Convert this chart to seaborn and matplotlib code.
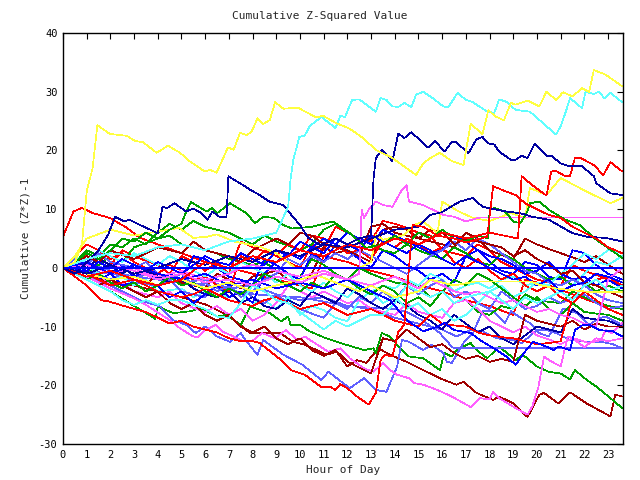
import matplotlib
matplotlib.use("Agg")
import matplotlib.pyplot as plt
import seaborn as sns
import pandas as pd

# ---------------- data ----------------
TITLE = "Cumulative Z-Squared Value"
XLABEL = "Hour of Day"
YLABEL = "Cumulative (Z*Z)-1"
XTICKS = list(range(0, 24))
YTICKS = [-30, -20, -10, 0, 10, 20, 30, 40]

COLORS = {
    "red": "#ff0000", "darkred": "#a00000", "green": "#00a000",
    "blue": "#0000ff", "darkblue": "#0000a0", "lightblue": "#6060ff",
    "magenta": "#ff60ff", "cyan": "#60ffff", "yellow": "#ffff40",
}

H_yellow_top = [0, 0.5, 0.8, 1.0, 1.25, 1.45, 1.98, 2.69, 3.04, 3.38, 3.95, 4.43, 4.94, 5.36, 5.99, 6.2, 6.48, 6.96, 7.2, 7.47, 7.75, 7.96, 8.21, 8.44, 8.73, 8.95, 9.3, 9.9, 10.7, 10.97, 11.55, 12.1, 12.66, 13.2, 13.9, 14.9, 15.2, 15.5, 15.9, 16.4, 16.9, 17.2, 17.7, 17.95, 18.2, 18.6, 18.9, 19.1, 19.6, 20.1, 20.4, 20.8, 21.1, 21.5, 21.9, 22.2, 22.4, 22.9, 23.6]
V_yellow_top = [0, 1, 4, 13, 17, 24.3, 22.8, 22.5, 21.6, 21.4, 19.6, 20.8, 19.6, 18.1, 16.4, 16.7, 16.2, 20.5, 20.1, 23.0, 22.6, 23.2, 25.5, 24.5, 25.2, 28.2, 27.1, 27.3, 25.6, 25.9, 24.6, 23.7, 22.1, 20.1, 18.7, 15.8, 17.8, 18.7, 19.6, 18.2, 17.5, 24.5, 22.8, 26.9, 25.9, 25.1, 28.1, 27.8, 28.5, 27.5, 30.0, 28.6, 29.9, 29.2, 30.6, 30.0, 33.7, 32.9, 30.9]

H_cyan_top = [0, 1, 2, 3, 4, 5, 6, 7, 8, 9, 9.5, 9.6, 9.72, 9.97, 10.2, 10.4, 10.9, 11.5, 11.7, 11.9, 12.2, 12.5, 13.2, 13.4, 13.65, 13.9, 14.15, 14.4, 14.7, 14.9, 15.2, 15.6, 16.05, 16.25, 16.65, 17.0, 17.3, 17.9, 18.2, 18.4, 18.7, 19.1, 19.7, 20.1, 20.8, 21.0, 21.2, 21.4, 21.9, 22.05, 22.4, 22.6, 22.85, 23.1, 23.6]
V_cyan_top = [0, 1.5, 2.5, 2, 3.5, 4, 3, 4.5, 5, 6, 10.4, 15, 18.4, 22.3, 22.5, 24.1, 25.7, 23.8, 25.9, 25.7, 28.6, 28.7, 26.6, 28.9, 28.6, 27.5, 27.4, 28.1, 27.4, 29.5, 30.0, 28.9, 27.5, 27.3, 29.8, 28.6, 28.2, 26.6, 26.4, 28.7, 28.3, 26.9, 26.6, 25.2, 22.7, 24.1, 26.4, 28.9, 27.2, 30.0, 29.6, 30.0, 28.9, 29.8, 28.2]

H_darkblue_top = [0, 0.5, 1.0, 1.5, 1.9, 2.2, 2.6, 2.8, 3.25, 4.0, 4.2, 4.4, 4.7, 5.2, 5.5, 5.85, 6.1, 6.3, 6.6, 6.9, 6.98, 7.6, 7.9, 8.3, 8.7, 9.3, 9.7, 10.0, 10.35, 10.85, 11.5, 12, 12.5, 13.0, 13.1, 13.2, 13.45, 13.9, 14.15, 14.4, 14.7, 15.4, 15.7, 16.1, 16.4, 16.6, 17.1, 17.45, 17.7, 17.95, 18.2, 18.4, 18.9, 19.1, 19.35, 19.6, 19.9, 20.4, 20.6, 21.0, 21.3, 21.9, 22.4, 22.5, 23.1, 23.6]
V_darkblue_top = [0, -1, 1, 3, 5.6, 8.7, 7.9, 8.2, 7.3, 5.9, 10.4, 10.2, 11.0, 9.6, 10.1, 9.3, 8.2, 9.6, 8.7, 8.7, 15.6, 14.1, 13.3, 12.4, 11.3, 10.7, 8.7, 7.3, 5.1, 3.9, 5, 4, 5, 5.5, 15, 18.7, 20.1, 18.2, 22.9, 22.1, 23.1, 20.5, 21.6, 19.8, 21.4, 21.4, 19.5, 21.9, 22.3, 21.2, 21.0, 19.8, 18.4, 18.4, 19.1, 18.7, 21.1, 19.1, 19.1, 17.8, 17.4, 17.3, 15.6, 14.4, 12.7, 12.4]

H_red_B = [0, 1, 2, 3, 4, 5, 6, 7, 8, 9, 10, 11, 12, 13, 14, 15, 16, 17, 18, 19.2, 19.35, 19.8, 20.4, 20.6, 20.8, 21.2, 21.4, 21.6, 21.8, 22.4, 22.8, 23.1, 23.6]
V_red_B = [0, -1.5, -0.5, -2, -3, -2, 1, 0, 2, 1, 3, 2, 4, 3, 5, 4, 6, 5, 6, 5, 15.6, 14.1, 12.3, 16.4, 16.5, 15.6, 15.7, 18.7, 18.8, 17.5, 15.8, 18.0, 16.4]

H_red_low = [0, 0.5, 1, 1.6, 1.9, 2.5, 3, 3.5, 4, 4.5, 5, 5.5, 6, 6.5, 7, 7.5, 8, 8.3, 9.2, 9.6, 10.2, 10.9, 11.3, 11.5, 11.7, 12.0, 12.4, 12.9, 13.2, 13.4, 13.6, 13.9, 14.15, 14.4, 14.75, 15.2, 15.8, 16.5, 17, 17.9, 18.15, 18.7, 19.1, 19.5, 20, 20.5, 21, 21.5, 22, 22.5, 23, 23.6]
V_red_low = [0, -1.5, -3, -5.5, -5.7, -6.4, -7, -7.5, -8.5, -9.5, -9, -10, -10.5, -11, -12, -12.5, -12.5, -12.8, -15.7, -17.4, -18.2, -20.3, -20.3, -20.8, -19.8, -20.5, -21.9, -23.3, -21.3, -15.7, -14.8, -15.1, -10.9, -9.7, 7.3, 7, 5.5, 5, 4.3, 5.3, 13.9, 13.0, 12.4, 11.0, 10, 9, 8.5, 7, 6, 5, 3.5, 2.5]

H_red_C = [0, 0.44, 0.79, 1.28, 1.98, 2.7, 3.25, 4, 5, 6, 7, 8, 9, 10, 10.5, 11, 12, 13, 14, 15, 16, 17, 18, 19, 19.5, 20.5, 21.5, 22.5, 23.6]
V_red_C = [5.3, 9.6, 10.2, 9.3, 8.5, 6.8, 5.1, 4, 2.5, 1, 0, -1, -2, -3, -3.5, 2, 1, -0.5, -1.5, -3, -4, -5.5, -6.5, -8, -2, -3, -4.5, -6, -7]

H_darkred_low = [0, 1, 2, 3, 4, 5, 6.06, 7.05, 7.89, 8.6, 9.16, 9.7, 10.2, 10.7, 11.1, 11.55, 12.0, 12.4, 12.8, 13.3, 13.8, 14.5, 15.35, 15.9, 16.6, 16.9, 17.45, 18.15, 18.4, 19.0, 19.6, 20.1, 20.3, 20.9, 21.4, 22.1, 23.1, 23.3, 23.6]
V_darkred_low = [0, -1, -2.5, -3, -4, -5, -6.3, -8.3, -11.1, -11.1, -11.1, -12.6, -13.1, -14.0, -14.8, -14.3, -16.8, -15.7, -16.2, -13.7, -14.8, -16.0, -17.7, -18.8, -19.9, -19.4, -21.3, -22.5, -21.9, -23.1, -25.4, -21.6, -21.3, -23.1, -21.2, -23.1, -25.3, -21.6, -21.9]

H_green_low = [0, 1, 2, 3, 3.5, 3.9, 4.0, 4.65, 5.36, 5.8, 6.5, 6.9, 7.5, 7.9, 8.73, 9.2, 9.5, 9.6, 10.0, 10.4, 11.1, 11.7, 12.7, 13.1, 13.2, 13.45, 13.8, 14.1, 14.6, 15.2, 15.9, 16.1, 16.4, 16.6, 17.2, 17.45, 17.9, 18.4, 19.1, 19.4, 20.0, 20.5, 21.0, 21.4, 21.6, 22.1, 22.5, 23.1, 23.6]
V_green_low = [0, -2, -4, -6.5, -7.7, -8.7, -6.6, -7.7, -7.4, -6.9, -8.3, -8.0, -9.7, -6.6, -7.7, -9.1, -8.3, -9.7, -9.7, -10.8, -12.0, -12.8, -14.0, -13.7, -14.5, -11.1, -11.7, -13.1, -15.1, -15.4, -17.4, -14.5, -15.1, -14.0, -12.8, -14.0, -15.4, -13.4, -15.7, -14.8, -16.8, -17.7, -18.0, -19.0, -17.4, -19.1, -20.2, -22.2, -23.9]

H_lightblue_1 = [0, 1, 2, 3.25, 4.1, 4.65, 5.2, 5.6, 6.0, 6.5, 7.05, 7.5, 7.7, 8.2, 8.45, 9.3, 10.1, 10.9, 11.2, 12.1, 12.7, 13.2, 13.65, 14.1, 14.3, 14.6, 15.2, 15.55, 16.05, 16.2, 16.4, 16.9, 17.3, 17.7, 18.15, 18.65, 18.9, 19.35, 19.7, 20.1, 20.5, 21.1, 21.7, 22.2, 22.6, 22.9, 23.2, 23.6]
V_lightblue_1 = [0, -1.5, -3, -5.5, -6.6, -8.9, -9.7, -11.1, -10.0, -11.7, -12.6, -11.1, -12.3, -14.8, -12.3, -14.8, -16.5, -19.1, -17.7, -20.5, -18.8, -20.8, -21.1, -16.8, -12.3, -12.6, -14.0, -13.1, -14.5, -16.0, -16.2, -12.8, -11.1, -7.4, -7.4, -9.4, -7.4, -8.6, -9.4, -11.1, -11.7, -6.9, -7.7, -9.7, -8.6, -8.3, -8.9, -9.7]

H_lightblue_2 = [0, 2, 4, 6, 8, 10, 12, 14, 14.5, 15.2, 15.9, 16.4, 16.5, 23.6]
V_lightblue_2 = [0, -1, -2, -3, -4.5, -5, -6.5, -7, -7.5, -9, -11.1, -13.4, -13.7, -13.7]

H_lightblue_3 = [0, 1, 2, 3, 4, 5, 6, 7, 8, 9, 10, 11, 12, 13, 14, 15, 16, 16.6, 17.2, 17.7, 18.3, 19.0, 19.35, 20.0, 20.4, 20.8, 21.4, 22.1, 22.7, 23.2, 23.6]
V_lightblue_3 = [0, 1, -0.5, -1.5, -1, -2.5, -2, -3.5, -3, -4.5, -5.5, -5, -6.5, -7, -8.5, -9.5, -10.5, -11.7, -10.6, -10.8, -12.0, -12.3, -12.8, -10.6, -10.6, -11.1, -12.3, -12.6, -12.6, -13.0, -13.7]

H_blue_low = [0, 1, 2, 3, 4, 5, 6, 7, 8, 9, 10, 11, 12, 13, 13.8, 14.5, 14.9, 15.2, 15.8, 16.1, 16.5, 17.2, 17.6, 18.3, 18.7, 19.1, 19.6, 19.85, 20.4, 20.7, 20.9, 21.4, 21.6, 21.95, 22.2, 22.65, 23.2, 23.6]
V_blue_low = [0, 1, -1, 0.5, -1, -2, -1, -3, -2, -3.5, -2.5, -3.5, -2, -4, -5.5, -8.9, -10.0, -10.8, -10.0, -9.4, -10.6, -11.1, -12.3, -14.0, -15.1, -16.5, -13.7, -12.6, -13.4, -14.0, -13.4, -14.0, -10.6, -9.7, -9.7, -10.6, -10.8, -11.7]

H_magenta_low = [0, 1, 2, 3, 3.5, 4.5, 4.94, 5.5, 5.7, 6.0, 6.45, 6.76, 7.2, 7.6, 8.0, 8.4, 8.95, 9.4, 9.9, 10.2, 11.2, 11.7, 12.1, 12.7, 13.1, 13.5, 13.8, 14.1, 14.6, 14.8, 15.2, 15.8, 16.4, 17.2, 17.6, 18.0, 18.15, 18.4, 19.1, 19.6, 19.8, 20.05, 20.3, 20.5, 21.0, 21.3, 22.2, 22.7, 22.9, 23.15, 23.6]
V_magenta_low = [0, -1.5, -3.5, -5.2, -6.3, -8.9, -10.3, -11.7, -11.8, -10.6, -9.7, -10.9, -11.7, -12.5, -12.4, -11.1, -12.0, -10.6, -12.3, -11.7, -14.3, -13.7, -15.4, -17.1, -17.7, -16.2, -17.4, -18.2, -18.8, -19.6, -19.9, -20.8, -21.9, -23.7, -22.2, -22.4, -21.1, -22.2, -23.9, -25.0, -23.6, -20.5, -15.1, -15.7, -16.8, -11.7, -12.8, -12.3, -10.6, -11.1, -9.4]

H_magenta_hi = [0, 1, 2, 3, 4, 5, 6, 7, 8, 9, 10, 11, 12, 12.5, 12.6, 12.7, 12.9, 13.2, 13.5, 13.9, 14.3, 14.5, 14.6, 15.2, 16.05, 16.5, 17.0, 17.6, 23.6]
V_magenta_hi = [0, -1, 0.5, -0.5, -2, -1, -2.5, -2, -3, -1.5, -2.5, -1, -2, -1, 9.9, 8.5, 9.9, 11.3, 10.7, 10.4, 13.3, 14.1, 11.3, 10.7, 9.0, 8.7, 7.9, 8.6, 8.6]

H_yellow_2 = [0, 0.5, 1.0, 2, 3, 4, 4.9, 5.5, 6.06, 6.5, 7.2, 8.3, 9, 9.8, 12.5, 13.0, 13.2, 13.5, 14.4, 14.8, 15.2, 15.8, 16.0, 16.7, 17.3, 18, 18.9, 19.5, 19.7, 20.4, 21.0, 21.95, 23.1, 23.6]
V_yellow_2 = [0, 2, 5, 6.5, 5.5, 6.2, 6.8, 5.1, 5.3, 5.7, 4.5, 3.6, 2.5, 0, 0, 1, 5.6, 4.8, 5.6, 7.3, 7.9, 5.9, 11.3, 9.6, 8.5, 8, 9.3, 8.5, 13.6, 12.4, 15.3, 13.3, 11.0, 11.9]

H_yellow_3 = [0, 1, 2, 3, 4, 5, 6, 7, 8, 9, 10, 10.7, 11.5, 12.5, 13, 14, 15, 15.5, 16.5, 17.45, 19.7, 20.1, 20.8, 22.2, 23.6]
V_yellow_3 = [0, -1, -2, -1.5, -3, -2, -3.5, -2.5, -4, -3, -2, -1.2, -2.5, -4, -3, -5, -4, -2, -3, -2.3, -2.3, -2.9, -3.5, -4.1, -4.1]

H_green_hi = [0, 0.5, 1, 1.5, 2, 2.5, 3, 3.5, 4, 4.5, 5, 5.2, 5.4, 6.06, 6.3, 6.5, 7.05, 7.75, 8.1, 8.45, 8.9, 9.3, 9.65, 10.5, 11.4, 12.1, 12.8, 13.5, 14, 14.5, 15, 15.5, 16, 16.5, 17, 17.5, 17.95, 18.0, 18.2, 18.65, 19.0, 19.3, 19.6, 19.7, 20.1, 20.5, 21.2, 21.8, 22.5, 23.1, 23.6]
V_green_hi = [0, 1, 2.5, 1.5, 3, 5, 4.5, 6, 5, 6.5, 7.5, 9.6, 11.2, 9.6, 10.2, 9.3, 11.0, 9.3, 7.6, 8.7, 8.5, 7.3, 6.7, 7, 7.9, 5.9, 3.4, 4, 5.5, 4, 6, 5, 6.5, 5, 4.5, 5.5, 5, 9.9, 10.2, 9.6, 7.9, 7.6, 9.6, 11.0, 11.3, 9.9, 8.2, 7.3, 4.8, 3.1, 1.7]

H_darkblue_2 = [0, 1, 2, 3, 4, 5, 6, 7, 8, 9, 10, 11, 12, 13, 14, 15, 15.5, 16, 16.4, 16.75, 17.3, 17.7, 18.7, 19.3, 19.8, 20.5, 21.5, 22.1, 22.9, 23.6]
V_darkblue_2 = [0, -1, 0.5, -1, 0, 1.5, 0.5, 2, 1, 3, 2, 4, 3.5, 5, 6.5, 7, 9, 9.5, 10.5, 11.3, 11.9, 10.4, 9.6, 9.3, 8.7, 8.2, 5.9, 5.3, 5.1, 4.5]

H_half = [0, 0.5, 1, 1.5, 2, 2.5, 3, 3.5, 4, 4.5, 5, 5.5, 6, 6.5, 7, 7.5, 8, 8.5, 9, 9.5, 10, 10.5, 11, 11.5, 12, 12.5, 13, 13.5, 14, 14.5, 15, 15.5, 16, 16.5, 17, 17.5, 18, 18.5, 19, 19.5, 20, 20.5, 21, 21.5, 22, 22.5, 23, 23.6]

V_red_c1 = [0, -1, 2.5, 1.5, 0.5, 3, 2, 1.2, 0.5, -1, 2, 1, -0.5, 1, -1, 4.5, 3.5, 2.8, 2, 1, 0, 4, 3, 7, 6, 5, 4.5, 8, 7.5, 6.8, 6, 5.5, 3, 2.5, 2, 4, 3, 1, 0, -1, -2, -2.5, -3, 0.5, -0.5, -1.2, -2, -3]
V_darkred_c2 = [0, -0.8, -1.5, -1, -0.5, -1.2, -2, -3, -1, -1.8, -2.5, -3, -3.5, -1, -2, -3.5, -1.5, -1, -0.5, -2, -3, -1, 3.5, 2.5, 3, 2, 1, 6.5, 7, 6.5, 5, 4.5, 4, 3.5, 6, 5, 3, 2.2, 1.5, 5, 4, 3.2, 2.5, 1.8, 1, 2, 0.5, -1]
V_green_c3 = [0, 0.5, -1, 0.5, 2, 1, 3.5, 4.2, 5, 5.5, 4, 3.5, 3, 2.5, 1.5, 1, 0.5, 1, -0.5, -1, -1.5, 1.5, 0.5, -1, -2, 0, -1, -1.8, -2.5, -2.8, -3, -5, -4, -6, -5.5, -7.5, -8, -6.5, -7, -4.5, -5.5, -5.8, -6, -4, -5, -5.8, -6.5, -7]
V_blue_c4 = [0, -0.5, 1, 0, -1, 0.5, -1.5, -0.5, -2, -1, -2, 2, 1.5, 0, -1.5, -2, -3, 1.5, 0.5, -1, -2, 2.5, 1, 4, 3, 1.5, 0, 3, 2, 0.5, -0.5, -2, -1, -2.5, 2, 3, 1, -0.5, -1, 1, 0.5, -1.5, -2, 3, 2.5, 0.5, -1, -2]
V_cyan_c5 = [0, -1, 0.5, -1, -2, -1.5, -3, -2, -4, -3.8, -3.5, -5, -4, -4.5, -5, -4, -6, -5.5, -7, -5, -8, -6.5, -7.2, -8.5, -9.1, -5.5, -4, -3, -3.5, -2, -3, -1, -2, -4, -3, -2.5, -3.5, -2, -1.5, -3, -2.5, -3.2, -4, -3, -1, 1, 0.5, 2]
V_magenta_c6 = [0, -1, -2, -1, -3, -2.5, -4, -4.5, -5, -4, -6, -6.8, -7.5, -6.5, -8, -7, -9, -8, -6, -3, -4, -5, -4, -5, -6, -5.5, -7, -7.5, -8, -6, -7.5, -8, -8.5, -6, -5.5, -7, -9, -10, -11, -10, -11.5, -12.2, -13, -12, -13.5, -12, -12.5, -12]
V_lightblue_c7 = [0, -1, -0.5, -1.2, -2, -1, -2.5, -2.8, -3, -2, -4, -4.5, -5, -3, -4, -3, -5, -6, -4.5, -6, -7, -7.8, -8.5, -6, -7, -5, -6, -4, -5.5, -3, -4.5, -3, -2, -5, -4, -6, -7, -4, -5.5, -7, -6.5, -5, -6, -5.2, -4.5, -6, -7, -6.5]
V_darkblue_c8 = [0, 1, 0, 1.5, 0.5, -1, 0.5, -0.5, -1.5, -2.5, -2, -3.5, -4.5, -5, -4, -6, -5, -6.5, -7, -5.5, -6.5, -4, -5, -6, -3.5, -4.5, -6, -7, -5.5, -6.5, -8, -9, -10.5, -8, -9.5, -11, -10, -12, -13, -11.5, -10, -10.5, -11, -7, -8.5, -8.8, -9, -10]
V_green_c9 = [0, 1, 3, 2, 4, 3.5, 5, 4, 6, 7.5, 6.5, 8, 7, 6.5, 6, 5, 4, 5.5, 4.5, 3.8, 3, 4, 6.5, 7.5, 6, 5, 4, 3, 2.5, 4, 3, 2.2, 1.5, 3.5, 2.5, 1, 0.5, 2.5, 1.5, 0, -1, -2, -1.5, -3, -2.5, -4, -3, -4]
V_red_c10 = [0, 2, 4, 3, 1.5, 2.5, 1, 0, -1, 0.5, -0.5, -2, -1.5, -3, -4, 2, 1, 3, 2, 4, 3, 5.5, 5, 4, 2.5, 3, 1.5, 4.5, 3.5, 5, 4, 2.5, 3.5, 1, 0, 1.5, -0.5, -2, -1, -3, -4, -3, -5, -6, -4, -5.5, -7, -8]
V_darkred_c11 = [0, -1, -2, -3, -2, -3, -4, -5, -4, -6, -7, -6, -8, -9, -8, -10, -11, -10, -12, -13, -12, -14, -15, -14, -16, -17, -18, -12, -12.5, -10.5, -12, -13.5, -13, -14.5, -15.5, -15, -16, -15.5, -16, -8, -9, -9.5, -10, -9, -10.5, -9.5, -10, -10]
V_blue_c12 = [0, -0.5, -0.5, -2, -1, -3, -2.5, -4, -3, -5, -4, -6, -4.5, -3, -5, -4, -6, -1, 1, 2.5, 1.5, 3.5, 5, 4, 6, 5, 4, 6.5, 5.5, 4.5, 3.5, 2.5, 3, 5.5, 4.5, 3, 2, 1.5, 0.5, -1, -0.5, 1, -1, -2, -1.5, -3, -2, -3.5]
V_cyan_c13 = [0, 2, 1, 3, 2, 1, 2.5, 1.5, 0.5, 2, 1, -0.5, -1.5, 0, -1, 1, 0, -1, -2.5, -1, -3, -4, -2.5, -4, -5, -3, -4, -6, -5, -7, -6, -8, -7, -9, -8, -6, -4, -3, -5, -4, -2.5, -3, -1, 0.5, 2.5, 1.5, 3, 2.5]
V_lightblue_c14 = [0, 1.5, 0.5, 2.5, 1, 0.5, 0, 1, -1, -2, -1, -3, -2.5, -4, -3, -5, -4, -2, -1, 1.5, 0.5, 2, 1, 2.5, 1.5, 3, 2, 1, 0, -1, 0.5, 2, 3, 4.5, 3, 5, 4, 2.5, 1, -0.5, -1, -2.5, -3, -2, -3, -4.5, -5.5, -6]
V_green_c15 = [0, -0.5, -2, -1, -2.5, -3.5, -2.5, -4, -3, -1.5, -3, -2.5, -4, -5, -3.5, -4.5, -3, -1, -2, -3, -4, -2.5, -3.5, -1, -2, -3.5, -4.5, -3, -4, -6, -5, -6.5, -4, -2, -3, -1, -2, -3.5, -5, -6.5, -5, -7, -8, -6, -7.5, -7.8, -8, -9]
V_red_c16 = [0, -0.5, -1, -2, -3, -2.5, -2, -3, -4, -4.5, -5, -4.5, -3.5, -4.5, -5.5, -6, -6.5, -5.5, -5, -6, -7, -6.5, -6, -7, -8, -7.5, -7, -8, -9, -9.5, -10, -8, -9.5, -9.8, -10, -11, -11.5, -11.8, -12, -12.5, -13, -12.8, -12.5, -5, -3, -2, -1.5, -3]
V_magenta_c17 = [0, 0.2, 0.5, -0.2, -1, -0.5, 0, -1, -1.5, -1, -0.5, -1.2, -2, -1.5, -1, 0, 0.5, 0, -0.5, -1, -1.5, -1, -0.5, -1.2, -2, -2.5, -3, -2.2, -1.5, -2.5, -3.5, -2, -3, -4, -4.5, -4, -5, -6, -5.5, -6.5, -7.5, -7, -8, -8.5, -9.5, -10, -2, 0]
V_darkred_c18 = [0, 1, 2, 1, 3, 2.2, 1.5, 2.5, 3.5, 3, 2.5, 4.5, 3, 2.5, 2, 1, 3, 4, 5, 4, 6, 5.5, 4, 3.5, 3, 2, 7, 7.5, 6, 5.5, 5, 6.5, 6, 4, 5, 4.5, 4, 3.5, 2, 3, 1.5, 0.5, -1, -0.5, -2.5, -3, -4, -5]
V_cyan_c19 = [0, -1, -2, -3, -4, -5.5, -6.3, -5.5, -6.3, -5.5, -5.5, -6.3, -7, -8.3, -8.5, -6, -3, -4, -5.5, -6, -7.5, -9, -10.5, -9, -10, -9, -8, -8, -6, -3, -4, -5, -4, -6, -5, -4.5, -4, -5.5, -7, -5, -6, -5, -4, -5.5, -3, -2, -4, -3]
V_blue_c20 = [0, 0.5, -0.5, 1, 0, 1.5, 0.5, -0.5, 1, 0, -1, 0.5, 2, 1, 0.5, 2.5, 1.5, 0.5, 3, 2, 4.5, 3.5, 2.5, 5, 4, 3, 5.5, 4.5, 3.5, 2.5, 4, 3, 1.5, 0.5, 2, 1, 0, -1, -2, -1.5, -3, -2, -4, -3, -2.5, -1, -1.5, -2.5]

H_zero = [0, 23.6]
V_zero = [0, 0]

SERIES = [
    ("red_C", "red", H_red_C, V_red_C),
    ("darkred_low", "darkred", H_darkred_low, V_darkred_low),
    ("green_low", "green", H_green_low, V_green_low),
    ("lightblue_1", "lightblue", H_lightblue_1, V_lightblue_1),
    ("lightblue_2", "lightblue", H_lightblue_2, V_lightblue_2),
    ("lightblue_3", "lightblue", H_lightblue_3, V_lightblue_3),
    ("magenta_low", "magenta", H_magenta_low, V_magenta_low),
    ("red_c1", "red", H_half, V_red_c1),
    ("darkred_c2", "darkred", H_half, V_darkred_c2),
    ("green_c3", "green", H_half, V_green_c3),
    ("blue_c4", "blue", H_half, V_blue_c4),
    ("cyan_c5", "cyan", H_half, V_cyan_c5),
    ("magenta_c6", "magenta", H_half, V_magenta_c6),
    ("lightblue_c7", "lightblue", H_half, V_lightblue_c7),
    ("darkblue_c8", "darkblue", H_half, V_darkblue_c8),
    ("green_c9", "green", H_half, V_green_c9),
    ("red_c10", "red", H_half, V_red_c10),
    ("darkred_c11", "darkred", H_half, V_darkred_c11),
    ("blue_c12", "blue", H_half, V_blue_c12),
    ("cyan_c13", "cyan", H_half, V_cyan_c13),
    ("lightblue_c14", "lightblue", H_half, V_lightblue_c14),
    ("green_c15", "green", H_half, V_green_c15),
    ("red_c16", "red", H_half, V_red_c16),
    ("magenta_c17", "magenta", H_half, V_magenta_c17),
    ("darkred_c18", "darkred", H_half, V_darkred_c18),
    ("cyan_c19", "cyan", H_half, V_cyan_c19),
    ("blue_c20", "blue", H_half, V_blue_c20),
    ("blue_low", "blue", H_blue_low, V_blue_low),
    ("yellow_3", "yellow", H_yellow_3, V_yellow_3),
    ("yellow_2", "yellow", H_yellow_2, V_yellow_2),
    ("magenta_hi", "magenta", H_magenta_hi, V_magenta_hi),
    ("green_hi", "green", H_green_hi, V_green_hi),
    ("darkblue_2", "darkblue", H_darkblue_2, V_darkblue_2),
    ("red_low", "red", H_red_low, V_red_low),
    ("red_B", "red", H_red_B, V_red_B),
    ("darkblue_top", "darkblue", H_darkblue_top, V_darkblue_top),
    ("cyan_top", "cyan", H_cyan_top, V_cyan_top),
    ("yellow_top", "yellow", H_yellow_top, V_yellow_top),
]

# ---------------- build long table ----------------
rows = []
for name, col, hs, vs in SERIES:
    for h, v in zip(hs, vs):
        rows.append({"series": name, "hour": h, "value": v})
df = pd.DataFrame(rows)
palette = {name: COLORS[col] for name, col, _, _ in SERIES}

sns.set_style("white")
plt.rcParams["font.family"] = ["DejaVu Sans Mono"]
plt.rcParams["lines.antialiased"] = False

fig = plt.figure(figsize=(6.4, 4.8), dpi=100)
ax = fig.add_axes([63 / 640, 1 - 444 / 480, 560 / 640, 411 / 480])

sns.lineplot(data=df, x="hour", y="value", hue="series", palette=palette,
             hue_order=[s[0] for s in SERIES], estimator=None, sort=False,
             legend=False, linewidth=0.5, ax=ax, antialiased=False)
sns.lineplot(x=H_zero, y=V_zero, color=COLORS["blue"], linewidth=1.2,
             estimator=None, sort=False, ax=ax, antialiased=False)

ax.set_xlim(0, 23.63)
ax.set_ylim(-30, 40)
ax.set_xticks(XTICKS)
ax.set_xticklabels([str(t) for t in XTICKS])
ax.set_yticks(YTICKS)
ax.set_yticklabels([str(t) for t in YTICKS])
ax.tick_params(direction="in", length=4.5, width=0.8, top=True, right=True,
               labelsize=7.5, colors="black", pad=4)
for sp in ax.spines.values():
    sp.set_visible(True)
    sp.set_color("black")
    sp.set_linewidth(1.0)
ax.set_xlabel(XLABEL, fontsize=8)
ax.set_ylabel(YLABEL, fontsize=8, labelpad=6)
fig.text(0.5, 1 - 16 / 480, TITLE, ha="center", va="center", fontsize=8)
ax.grid(False)

fig.savefig("out.png", dpi=100, facecolor="white")
